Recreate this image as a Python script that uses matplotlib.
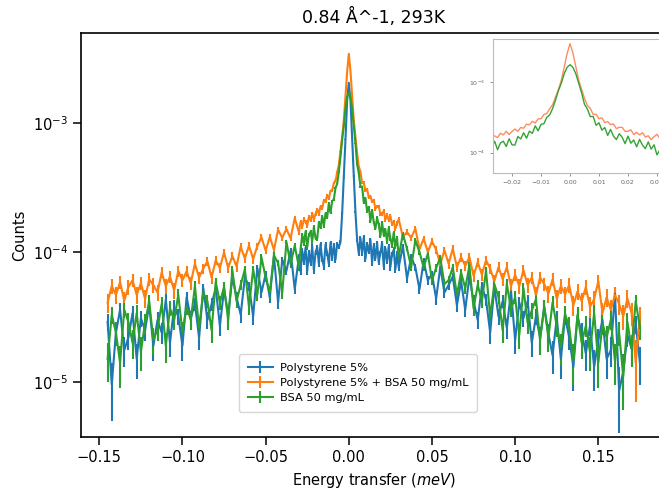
import numpy as np
import matplotlib
matplotlib.use("Agg")
import matplotlib.pyplot as plt
from matplotlib.ticker import NullLocator, MultipleLocator

# Energy transfer grid (meV): coarse wings, fine centre
e_left = [-0.145, -0.1425, -0.14, -0.1375, -0.135, -0.1325, -0.13, -0.1275, -0.125, -0.1225,
          -0.12, -0.1175, -0.115, -0.1125, -0.11, -0.1075, -0.105, -0.1025, -0.1, -0.0975,
          -0.095, -0.0925, -0.09, -0.0875, -0.085, -0.0825, -0.08, -0.0775, -0.075, -0.0725,
          -0.07, -0.0675, -0.065, -0.0625, -0.06, -0.0575, -0.055, -0.0525, -0.05, -0.0475,
          -0.045, -0.0425, -0.04, -0.0375, -0.035, -0.0325, -0.03]
e_mid = [-0.029, -0.028, -0.027, -0.026, -0.025, -0.024, -0.023, -0.022, -0.021, -0.02,
         -0.019, -0.018, -0.017, -0.016, -0.015, -0.014, -0.013, -0.012, -0.011, -0.01,
         -0.009, -0.008, -0.007, -0.006, -0.005, -0.004, -0.003, -0.002, -0.001, 0.0,
         0.001, 0.002, 0.003, 0.004, 0.005, 0.006, 0.007, 0.008, 0.009, 0.01,
         0.011, 0.012, 0.013, 0.014, 0.015, 0.016, 0.017, 0.018, 0.019, 0.02,
         0.021, 0.022, 0.023, 0.024, 0.025, 0.026, 0.027, 0.028, 0.029]
e_right = [0.03, 0.0325, 0.035, 0.0375, 0.04, 0.0425, 0.045, 0.0475, 0.05, 0.0525,
           0.055, 0.0575, 0.06, 0.0625, 0.065, 0.0675, 0.07, 0.0725, 0.075, 0.0775,
           0.08, 0.0825, 0.085, 0.0875, 0.09, 0.0925, 0.095, 0.0975, 0.1, 0.1025,
           0.105, 0.1075, 0.11, 0.1125, 0.115, 0.1175, 0.12, 0.1225, 0.125, 0.1275,
           0.13, 0.1325, 0.135, 0.1375, 0.14, 0.1425, 0.145, 0.1475, 0.15, 0.1525,
           0.155, 0.1575, 0.16, 0.1625, 0.165, 0.1675, 0.17, 0.1725, 0.175]

# Counts, in units of 1e-5 (left wing / centre / right wing)
ps_counts = [
    2.9, 0.95, 2.4, 3.6, 1.75, 2.2, 3.4, 1.5, 3.1, 2.5,
    3.9, 1.9, 3.0, 2.4, 4.3, 2.0, 3.8, 3.2, 1.9, 4.5,
    3.1, 4.0, 2.2, 5.3, 3.0, 4.0, 5.3, 2.7, 5.2, 3.3,
    6.4, 4.5, 3.3, 6.4, 5.5, 3.2, 7.6, 4.9, 6.8, 4.5,
    9.4, 4.1, 8.8, 7.2, 10.3, 5.2, 9.2,
    7.1, 10.3, 8.4, 10.9, 7.2, 10.0, 8.3, 11.2, 7.3, 10.0,
    11.0, 8.2, 11.6, 8.9, 7.8, 11.5, 9.85, 8.2, 11.9, 9.0,
    11.4, 8.8, 11.7, 11.0, 12.0, 20, 38, 75, 150, 206,
    152, 76, 39, 20.5, 12.5, 9.8, 12.9, 9.9, 13.1, 8.9,
    11.6, 10.1, 12.6, 8.3, 11.3, 9.0, 11.9, 8.4, 9.9, 11.8,
    7.8, 10.8, 8.6, 11.1, 7.7, 9.7, 10.5, 7.4, 9.8,
    7.7, 11.2, 6.3, 9.2, 7.7, 5.2, 8.6, 6.1, 6.8, 4.4,
    7.7, 4.9, 5.6, 6.5, 3.9, 6.0, 3.6, 6.5, 4.2, 3.0,
    5.5, 4.3, 2.4, 5.4, 3.2, 4.2, 2.6, 5.0, 2.1, 4.1,
    3.1, 4.2, 2.0, 3.2, 2.2, 3.8, 2.35, 1.6, 3.1, 1.5,
    3.2, 2.2, 1.3, 3.2, 2.4, 1.65, 2.7, 1.3, 2.1, 3.0,
    1.5, 1.75, 4.8, 0.85, 1.2, 2.3, 1.8, 2.8, 1.4]
mix_counts = [
    4.1, 5.5, 4.7, 5.9, 4.25, 5.4, 6.1, 4.7, 5.8, 4.4,
    6.2, 5.6, 4.9, 7.0, 5.5, 6.5, 5.1, 7.2, 6.1, 7.15,
    5.8, 8.2, 6.4, 7.5, 8.55, 6.4, 8.7, 7.6, 10.0, 7.6,
    9.4, 7.8, 11.1, 9.0, 11.3, 8.9, 11.2, 13.1, 10.35, 13.2,
    10.5, 15.0, 13.0, 15.2, 12.9, 18.4, 14.4,
    17.2, 15.9, 18.0, 17.2, 16.3, 18.8, 17.8, 20.0, 18.0, 19.9,
    21.5, 20.0, 22.7, 22.1, 25.2, 24.7, 27.6, 26.2, 30.0, 30.1,
    34.5, 35.6, 41.8, 47.5, 60.6, 78, 105, 160, 250, 345,
    255, 165, 105, 78, 58.6, 46.1, 42.2, 34.6, 34.8, 30.1,
    30.9, 26.6, 27.4, 24.8, 25.4, 21.8, 22.8, 22.7, 20.0, 20.0,
    21.0, 18.0, 19.4, 17.8, 19.1, 16.6, 17.3, 15.3, 16.8,
    18.1, 13.2, 14.4, 13.0, 15.3, 10.6, 12.8, 10.1, 12.2, 10.5,
    8.1, 10.4, 8.2, 10.7, 7.7, 9.2, 7.9, 9.2, 6.6, 8.4,
    6.75, 8.7, 7.5, 6.0, 7.7, 6.2, 7.7, 5.5, 6.7, 5.5,
    7.3, 5.6, 6.4, 4.7, 6.4, 5.7, 4.8, 6.2, 4.4, 5.5,
    4.75, 5.6, 3.9, 5.0, 4.2, 5.4, 3.8, 4.35, 6.0, 3.4,
    4.5, 3.6, 4.7, 4.0, 3.2, 4.4, 3.4, 1.4, 3.1]
bsa_counts = [
    1.5, 3.3, 2.4, 1.4, 3.6, 2.9, 2.0, 3.4, 1.7, 2.85,
    4.2, 2.1, 2.55, 4.0, 1.9, 3.7, 3.0, 4.7, 2.4, 3.8,
    3.0, 5.5, 2.6, 4.9, 4.2, 2.5, 5.9, 4.1, 5.4, 3.0,
    7.3, 4.2, 5.6, 7.4, 3.8, 7.4, 4.7, 9.2, 6.4, 4.9,
    9.5, 8.3, 4.9, 12.1, 8.1, 11.3, 7.7,
    10.6, 13.7, 11.8, 14.5, 11.0, 13.7, 14.5, 12.2, 15.7, 12.9,
    12.8, 16.9, 15.6, 19.1, 16.0, 20.1, 18.7, 23.9, 20.3, 25.0,
    25.7, 31.5, 34.0, 42, 55, 75, 95, 130, 160, 174,
    160, 130, 95, 70, 48, 41.2, 32.3, 32.4, 24.3, 26.4,
    20.8, 22.6, 17.5, 21.3, 17.1, 15.3, 18.5, 16.5, 13.4, 17.1,
    13.6, 15.1, 12.1, 15.4, 12.8, 11.4, 14.2, 11.2, 12.9,
    9.3, 13.9, 10.7, 7.7, 12.4, 10.1, 7.65, 9.8, 6.1, 7.6,
    9.1, 5.7, 6.1, 7.7, 4.7, 7.0, 5.3, 7.9, 3.7, 5.6,
    4.2, 7.2, 3.2, 5.7, 4.5, 2.5, 5.7, 3.65, 4.5, 2.3,
    5.3, 2.85, 3.55, 4.35, 2.1, 3.8, 2.2, 4.1, 2.7, 1.85,
    3.35, 2.65, 1.45, 3.3, 2.0, 2.7, 1.7, 3.4, 1.4, 2.8,
    2.2, 3.0, 1.45, 2.4, 1.1, 2.9, 1.8, 4.2, 2.6]

# error bar half-heights (1e-5)
ps_err = 0.45
mix_err = 0.7
bsa_err = 0.5

labels = ["Polystyrene 5%", "Polystyrene 5% + BSA 50 mg/mL", "BSA 50 mg/mL"]
colors = ["#1f77b4", "#ff7f0e", "#2ca02c"]

energy = np.array(e_left + e_mid + e_right)
series = [np.array(ps_counts) * 1e-5, np.array(mix_counts) * 1e-5, np.array(bsa_counts) * 1e-5]
errors = [ps_err * 1e-5, mix_err * 1e-5, bsa_err * 1e-5]

fig = plt.figure(figsize=(6.59, 4.92), dpi=100)
ax = fig.add_axes([0.1229, 0.1118, 0.8885, 0.8211])

for y, err, lab, col in zip(series, errors, labels, colors):
    ax.errorbar(energy, y, yerr=np.full_like(y, err), color=col, label=lab, lw=1.5)

ax.set_yscale("log")
ax.set_xlim(-0.161, 0.191)
ax.set_ylim(3.73e-6, 5.0e-3)
ax.yaxis.set_minor_locator(NullLocator())
ax.set_title("0.84 Å^-1, 293K", fontsize=12.5, pad=7)
ax.set_xlabel("Energy transfer ($meV$)", fontsize=10.5)
ax.set_ylabel("Counts", fontsize=10.5)
ax.tick_params(labelsize=10.5, length=6, width=1.1)
for spine in ax.spines.values():
    spine.set_linewidth(1.2)

ax.legend(loc="lower left", bbox_to_anchor=(0.270, 0.0626), borderaxespad=0,
          fontsize=8.2, handlelength=2.2, labelspacing=0.45, borderpad=0.75,
          handletextpad=0.6)

# inset: close-up of the elastic peak (mix and BSA only)
axin = ax.inset_axes([0.703, 0.654, 0.297, 0.33])
axin.plot(energy, series[1], color="#fc8d62", lw=1.0)
axin.plot(energy, series[2], color="#33a333", lw=1.0)
axin.set_yscale("log")
axin.set_xlim(-0.0267, 0.0333)
axin.set_ylim(5.2e-5, 3.95e-3)
axin.xaxis.set_major_locator(MultipleLocator(0.01))
axin.yaxis.set_minor_locator(NullLocator())
axin.tick_params(labelsize=4.5, length=2, width=0.5, colors="#666666")
for spine in axin.spines.values():
    spine.set_color("#bbbbbb")
    spine.set_linewidth(0.8)

fig.savefig("out.png", dpi=100)
